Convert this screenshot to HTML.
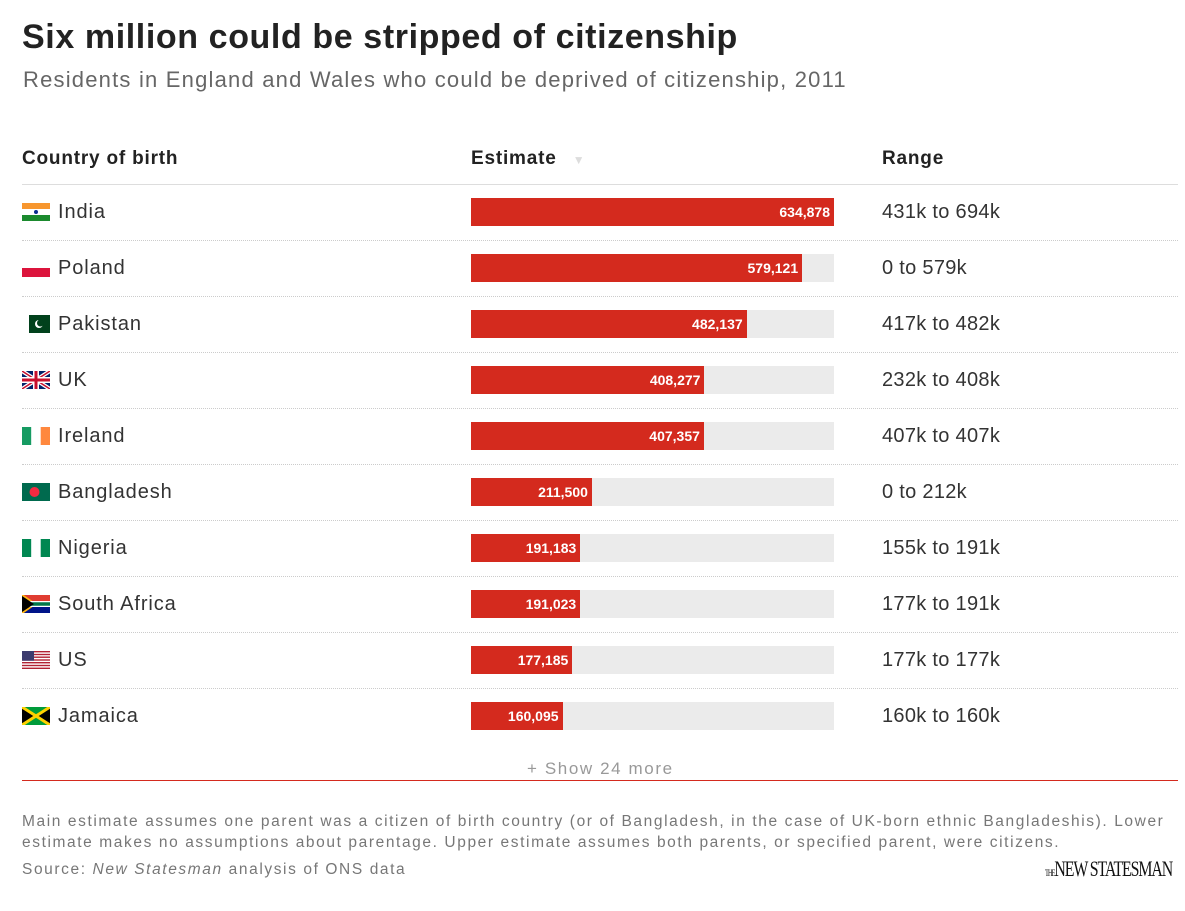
<!DOCTYPE html>
<html><head><meta charset="utf-8"><style>
body{margin:0;width:1185px;height:911px;background:#fff;font-family:"Liberation Sans",sans-serif;position:relative;overflow:hidden}
.a{position:absolute;white-space:nowrap}
.title{left:22px;top:18px;font-size:34px;font-weight:bold;color:#222;letter-spacing:0.6px}
.sub{left:23px;top:67px;font-size:22px;color:#666;letter-spacing:1.2px}
.hd{top:148px;font-size:19px;font-weight:bold;color:#222;letter-spacing:0.8px}
.div{left:22px;width:1156px;height:0;border-top:1px dotted #ccc}
.name{left:58px;font-size:20px;color:#333;letter-spacing:0.9px}
.rng{left:882px;font-size:20px;color:#333;letter-spacing:0.3px}
.bg{left:471px;width:363px;height:28px;background:#ebebeb}
.bar{left:471px;height:28px;background:#d42a1e}
.val{font-size:14px;font-weight:bold;color:#fff;line-height:28px;text-align:right}
.foot{left:22px;font-size:15.5px;color:#777;letter-spacing:1.6px}
</style></head><body>
<div class="a title">Six million could be stripped of citizenship</div>
<div class="a sub">Residents in England and Wales who could be deprived of citizenship, 2011</div>
<div class="a hd" style="left:22px">Country of birth</div>
<div class="a hd" style="left:471px">Estimate <span style="color:#ddd;font-size:12px;margin-left:10px">▼</span></div>
<div class="a hd" style="left:882px">Range</div>
<div class="a div" style="top:184px;border-top:1px solid #ddd"></div>
<div id="rows"></div>
<div class="a" style="left:22px;top:780px;width:1156px;height:1px;background:#d42a1e"></div>
<div class="a" style="left:527px;top:759px;font-size:17px;color:#999;letter-spacing:1.6px">+ Show 24 more</div>
<div class="a foot" style="top:811px;line-height:21px">Main estimate assumes one parent was a citizen of birth country (or of Bangladesh, in the case of UK-born ethnic Bangladeshis). Lower<br>estimate makes no assumptions about parentage. Upper estimate assumes both parents, or specified parent, were citizens.</div>
<div class="a foot" style="top:861px">Source: <i>New Statesman</i> analysis of ONS data</div>
<div class="a" style="left:1045px;top:856px;font-family:'Liberation Serif',serif;font-size:22px;color:#111;letter-spacing:-1.5px;transform:scaleX(0.72);transform-origin:left"><span style="font-size:9px">THE</span>NEW STATESMAN</div>
<script>
const countries=["India","Poland","Pakistan","UK","Ireland","Bangladesh","Nigeria","South Africa","US","Jamaica"];
const estimates=[634878,579121,482137,408277,407357,211500,191183,191023,177185,160095];
const ranges=["431k to 694k","0 to 579k","417k to 482k","232k to 408k","407k to 407k","0 to 212k","155k to 191k","177k to 191k","177k to 177k","160k to 160k"];
const flags=[
'<rect width="28" height="6" fill="#f7962e"/><rect y="6" width="28" height="6" fill="#fff"/><rect y="12" width="28" height="6" fill="#1b8a2e"/><circle cx="14" cy="9" r="2" fill="#0a2c8f"/>',
'<rect width="28" height="9" fill="#fff"/><rect y="9" width="28" height="9" fill="#dc143c"/>',
'<rect width="7" height="18" fill="#fff"/><rect x="7" width="21" height="18" fill="#01411c"/><circle cx="17" cy="9" r="4" fill="#fff"/><circle cx="18.5" cy="8" r="3.5" fill="#01411c"/>',
'<rect width="28" height="18" fill="#012169"/><path d="M0 0L28 18M28 0L0 18" stroke="#fff" stroke-width="4"/><path d="M0 0L28 18M28 0L0 18" stroke="#c8102e" stroke-width="1.5"/><path d="M14 0V18M0 9H28" stroke="#fff" stroke-width="6"/><path d="M14 0V18M0 9H28" stroke="#c8102e" stroke-width="3"/>',
'<rect width="9.3" height="18" fill="#169b62"/><rect x="9.3" width="9.4" height="18" fill="#fff"/><rect x="18.7" width="9.3" height="18" fill="#ff883e"/>',
'<rect width="28" height="18" fill="#006a4e"/><circle cx="12.5" cy="9" r="5" fill="#f42a41"/>',
'<rect width="9.3" height="18" fill="#008751"/><rect x="9.3" width="9.4" height="18" fill="#fff"/><rect x="18.7" width="9.3" height="18" fill="#008751"/>',
'<rect width="28" height="9" fill="#e03c31"/><rect y="9" width="28" height="9" fill="#001489"/><path d="M0 0L13 9L0 18" fill="#000" stroke="#ffb612" stroke-width="2"/><path d="M0 9H28" stroke="#fff" stroke-width="6"/><path d="M0 9H28" stroke="#007749" stroke-width="3.5"/><path d="M0 1L12 9L0 17Z" fill="#000"/>',
'<rect width="28" height="18" fill="#fff"/><g fill="#b22234"><rect width="28" height="1.4"/><rect y="2.8" width="28" height="1.4"/><rect y="5.5" width="28" height="1.4"/><rect y="8.3" width="28" height="1.4"/><rect y="11" width="28" height="1.4"/><rect y="13.8" width="28" height="1.4"/><rect y="16.6" width="28" height="1.4"/></g><rect width="12" height="9.7" fill="#3c3b6e"/>',
'<rect width="28" height="18" fill="#009b3a"/><path d="M0 0L14 9L0 18ZM28 0L14 9L28 18Z" fill="#000"/><path d="M0 0L28 18M28 0L0 18" stroke="#fed100" stroke-width="3"/>'
];
const maxV=634878, barW=363, x0=471, rowH=56, y0=212;
const xs=v=>v/maxV*barW;
const rows=document.getElementById('rows');
countries.forEach((c,i)=>{
  const cy=y0+i*rowH;
  const mk=(cls,style,html)=>{const d=document.createElement('div');d.className='a '+cls;d.style.cssText=style;d.innerHTML=html||'';rows.appendChild(d);return d;};
  const f=mk('', 'left:22px;top:'+(cy-9)+'px;width:28px;height:18px','<svg width="28" height="18">'+flags[i]+'</svg>');
  
  
  const n=mk('name','top:'+(cy-11)+'px',c);
  
  
  const bg=mk('bg','top:'+(cy-14)+'px');
  
  
  const w=xs(estimates[i]);
  const b=mk('bar','top:'+(cy-14)+'px;width:'+w+'px');
  
  
  const v=mk('val','top:'+(cy-14)+'px;left:'+(x0)+'px;width:'+(w-4)+'px',estimates[i].toLocaleString('en-US'));
  
  
  const r=mk('rng','top:'+(cy-11)+'px',ranges[i]);
  
  
  if(i<countries.length-1){
    const d=mk('div','top:'+(cy+28)+'px');
    
    
  }
});
</script>
</body></html>
